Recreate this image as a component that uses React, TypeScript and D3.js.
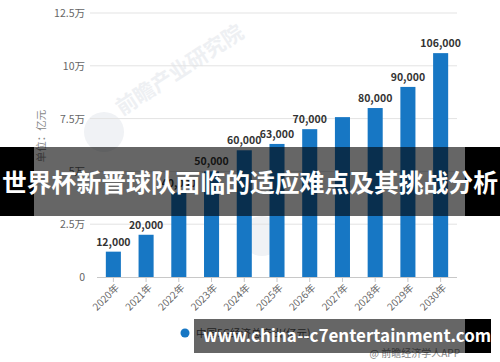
import React, { useEffect, useRef } from 'react';
import * as d3 from 'd3';

const years = ['2020年', '2021年', '2022年', '2023年', '2024年', '2025年', '2026年', '2027年', '2028年', '2029年', '2030年'];
const output = [12000, 20000, 40000, 50000, 60000, 63000, 70000, 75700, 80000, 90000, 106000];
const valueLabels = ['12,000', '20,000', '40,000', '50,000', '60,000', '63,000', '70,000', '', '80,000', '90,000', '106,000'];
const yTicks = [0, 25000, 50000, 75000, 100000, 125000];
const seriesName = '中国5G经济总产出(亿元)';
const unitTitle = '单位：亿元';
const headline = '世界杯新晋球队面临的适应难点及其挑战分析';
const siteUrl = 'www.china--c7entertainment.com';
const sourceNote = '@ 前瞻经济学人APP';
const watermark = '前瞻产业研究院';

const FONT = '"Noto Sans CJK SC", "Noto Sans", sans-serif';
const BLUE = '#1777c4';

const App: React.FC = () => {
  const ref = useRef<SVGSVGElement>(null);

  useEffect(() => {
    if (!ref.current) return;
    const svg = d3.select(ref.current);
    svg.selectAll('*').remove();

    const width = 500;
    const height = 362;
    svg.attr('width', width).attr('height', height).style('font-family', FONT);

    svg.append('rect').attr('width', width).attr('height', height).attr('fill', '#fff');

    // faint watermark
    const wm = svg.append('g');
    wm.append('circle').attr('cx', 104).attr('cy', 132).attr('r', 20).attr('fill', '#f0f2f5');
    wm.append('text')
      .attr('transform', 'translate(122,116) rotate(-33)')
      .attr('font-size', 21)
      .attr('font-weight', 'bold')
      .attr('fill', '#eef0f3')
      .text(watermark);
    wm.append('circle').attr('cx', 262).attr('cy', 236).attr('r', 20).attr('fill', '#f0f2f5');

    const x = d3.scaleBand<string>().domain(years).range([97, 457]).paddingInner(0.54).paddingOuter(0.27);
    const y = d3.scaleLinear().domain([0, 125000]).range([277, 13]);

    // gridlines
    svg.append('g')
      .selectAll('line')
      .data(yTicks.filter((d) => d > 0))
      .enter()
      .append('line')
      .attr('x1', 90)
      .attr('x2', 457)
      .attr('y1', (d) => y(d))
      .attr('y2', (d) => y(d))
      .attr('stroke', '#e3e3e3')
      .attr('stroke-width', 1);

    // y labels
    svg.append('g')
      .selectAll('text')
      .data(yTicks)
      .enter()
      .append('text')
      .attr('x', 85)
      .attr('y', (d) => y(d) + 4)
      .attr('text-anchor', 'end')
      .attr('font-size', 10.5)
      .attr('fill', '#666')
      .text((d) => (d === 0 ? '0' : `${d / 10000}万`));

    // unit title
    svg.append('text')
      .attr('transform', 'translate(45,136) rotate(-90)')
      .attr('text-anchor', 'middle')
      .attr('font-size', 10.5)
      .attr('fill', '#888')
      .text(unitTitle);

    // bars
    svg.append('g')
      .selectAll('rect')
      .data(output)
      .enter()
      .append('rect')
      .attr('x', (d, i) => x(years[i])!)
      .attr('y', (d) => y(d))
      .attr('width', x.bandwidth())
      .attr('height', (d) => y(0) - y(d))
      .attr('fill', BLUE);

    // value labels
    svg.append('g')
      .selectAll('text')
      .data(output)
      .enter()
      .append('text')
      .attr('x', (d, i) => x(years[i])! + x.bandwidth() / 2)
      .attr('y', (d) => y(d) - 6)
      .attr('text-anchor', 'middle')
      .attr('font-size', 10.5)
      .attr('font-weight', 'bold')
      .attr('fill', '#333')
      .text((d, i) => valueLabels[i]);

    // x axis
    svg.append('line')
      .attr('x1', 97)
      .attr('x2', 457)
      .attr('y1', y(0) + 0.5)
      .attr('y2', y(0) + 0.5)
      .attr('stroke', '#c8c8c8');
    const xg = svg.append('g');
    xg.selectAll('line')
      .data(years)
      .enter()
      .append('line')
      .attr('x1', (d) => x(d)! + x.bandwidth() / 2)
      .attr('x2', (d) => x(d)! + x.bandwidth() / 2)
      .attr('y1', y(0))
      .attr('y2', y(0) + 5)
      .attr('stroke', '#c8c8c8');
    xg.selectAll('text')
      .data(years)
      .enter()
      .append('text')
      .attr('transform', (d) => `translate(${x(d)! + x.bandwidth() / 2 + 4},${y(0) + 9}) rotate(-45)`)
      .attr('text-anchor', 'end')
      .attr('dy', '0.35em')
      .attr('font-size', 10)
      .attr('fill', '#666')
      .text((d) => d);

    // legend
    svg.append('circle').attr('cx', 185).attr('cy', 333).attr('r', 4.5).attr('fill', BLUE);
    svg.append('text')
      .attr('x', 196)
      .attr('y', 337)
      .attr('font-size', 10.5)
      .attr('fill', '#555')
      .text(seriesName);

    svg.append('text')
      .attr('x', 460)
      .attr('y', 357)
      .attr('text-anchor', 'end')
      .attr('font-size', 10)
      .attr('fill', '#888')
      .text(sourceNote);

    // headline banner
    svg.append('rect').attr('x', 0).attr('y', 147).attr('width', 34).attr('height', 69).attr('fill', '#000');
    svg.append('rect').attr('x', 465).attr('y', 147).attr('width', 35).attr('height', 69).attr('fill', '#000');
    svg.append('rect').attr('x', 34).attr('y', 147).attr('width', 431).attr('height', 69).attr('fill', '#000').attr('opacity', 0.6);
    svg.append('text')
      .attr('x', 250)
      .attr('y', 192)
      .attr('text-anchor', 'middle')
      .attr('font-size', 24.8)
      .attr('font-weight', 'bold')
      .attr('fill', '#fff')
      .text(headline);

    // bottom url banner
    svg.append('rect').attr('x', 465).attr('y', 319).attr('width', 26).attr('height', 34).attr('fill', '#000');
    svg.append('rect').attr('x', 194).attr('y', 319).attr('width', 271).attr('height', 34).attr('fill', '#000').attr('opacity', 0.6);
    svg.append('text')
      .attr('x', 203)
      .attr('y', 342)
      .attr('font-size', 17)
      .attr('font-weight', 'bold')
      .attr('fill', '#fff')
      .text(siteUrl);
  }, []);

  return <svg ref={ref} style={{ position: 'absolute', left: 0, top: 0 }}></svg>;
};

export default App;
